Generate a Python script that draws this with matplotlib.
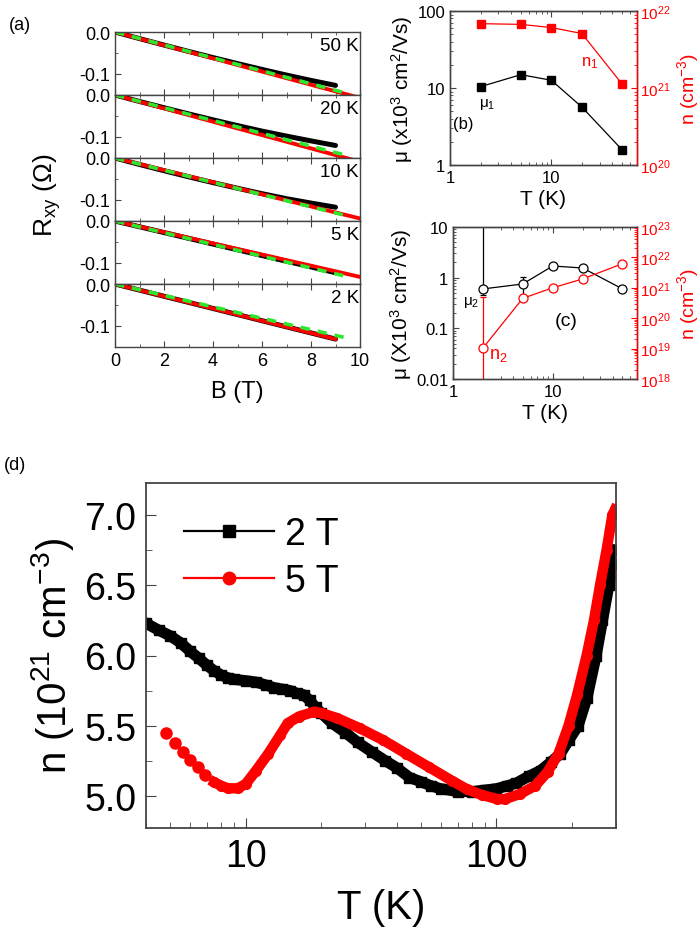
import numpy as np
import matplotlib
matplotlib.use('Agg')
import matplotlib.pyplot as plt
from matplotlib.lines import Line2D
from matplotlib.ticker import FixedLocator, MultipleLocator, LogLocator, NullFormatter

plt.rcParams['font.family'] = ['Liberation Sans', 'DejaVu Sans']
plt.rcParams['mathtext.fontset'] = 'custom'
plt.rcParams['mathtext.rm'] = 'Liberation Sans'
plt.rcParams['mathtext.it'] = 'Liberation Sans:italic'
plt.rcParams['mathtext.sf'] = 'Liberation Sans'
plt.rcParams['axes.unicode_minus'] = False

# ---------------- data: panel (a) ----------------
a_labels = ['50 K', '20 K', '10 K', '5 K', '2 K']
B_data = [0, 1, 2, 3, 4, 5, 6, 7, 8, 9]
R_50K = [0, -0.0158, -0.0313, -0.0465, -0.0613, -0.0757, -0.0897, -0.1032, -0.1160, -0.128]
R_20K = [0, -0.0155, -0.0305, -0.0452, -0.0595, -0.0733, -0.0865, -0.0985, -0.1100, -0.121]
R_10K = [0, -0.0155, -0.0305, -0.0450, -0.0590, -0.0725, -0.0855, -0.0975, -0.1080, -0.118]
R_5K = [0, -0.0138, -0.0277, -0.0415, -0.0553, -0.0690, -0.0828, -0.0965, -0.1100, -0.124]
R_2K = [0, -0.0147, -0.0294, -0.0440, -0.0587, -0.0733, -0.0880, -0.1027, -0.1173, -0.132]
red_fit_B_end = [10.0, 10.0, 10.0, 10.0, 9.0]
red_fit_R_end = [-0.158, -0.160, -0.145, -0.134, -0.132]
green_fit_B_end = [9.4, 9.4, 9.5, 9.45, 9.5]
green_fit_R_end = [-0.146, -0.144, -0.139, -0.133, -0.130]

# ---------------- data: panel (b) ----------------
T_b = [2, 5, 10, 20, 50]
mu1 = [10.4, 14.9, 12.6, 5.66, 1.57]
n1 = [6.85e21, 6.7e21, 6.1e21, 5.1e21, 1.12e21]

# ---------------- data: panel (c) ----------------
T_c = [2, 5, 10, 20, 50]
mu2 = [0.60, 0.75, 1.70, 1.55, 0.60]
mu2_err_low = [0.15, 0.30, 0.20, 0.18, 0.07]
mu2_err_high = [200.0, 0.27, 0.20, 0.18, 0.07]
n2 = [1.05e19, 4.5e20, 1.0e21, 1.96e21, 6.2e21]
n2_err_low = [1.0e19, 0.6e20, 0.15e21, 0.3e21, 1.0e21]
n2_err_high = [4.7e20, 0.6e20, 0.15e21, 0.3e21, 1.0e21]

# ---------------- data: panel (d) ----------------
T_2T = [4.0, 4.5, 5.0, 5.5, 6.0, 6.5, 7.0, 7.5, 8.0, 8.5, 9.0, 10, 11, 12, 13, 14, 15, 16, 17,
        18, 19, 20, 22, 25, 28, 32, 36, 40, 45, 50, 55, 60, 70, 80, 90, 100, 110, 120, 135,
        150, 165, 180, 195, 212, 230, 250, 265, 281, 292, 300]
n_2T = [6.23, 6.18, 6.14, 6.09, 6.03, 5.98, 5.93, 5.89, 5.86, 5.84, 5.83, 5.82, 5.81, 5.79,
        5.77, 5.76, 5.75, 5.73, 5.72, 5.68, 5.63, 5.59, 5.52, 5.45, 5.38, 5.31, 5.25, 5.20,
        5.13, 5.10, 5.07, 5.05, 5.03, 5.03, 5.04, 5.05, 5.07, 5.09, 5.14, 5.18, 5.24, 5.30,
        5.40, 5.50, 5.70, 6.00, 6.25, 6.50, 6.65, 6.75]
T_5T = [4.8, 5.2, 5.6, 6.0, 6.45, 6.9, 7.5, 8.0, 8.5, 9.3, 10, 11, 12.3, 13.7, 14.7, 16.3,
        18.8, 20.1, 23.2, 28.6, 35.3, 43.6, 53.8, 66.3, 76, 87.7, 101, 108, 124, 143, 160,
        177, 194, 210, 229, 245, 259, 275, 290, 297]
n_5T = [5.445, 5.377, 5.31, 5.257, 5.204, 5.149, 5.096, 5.07, 5.053, 5.053, 5.084, 5.18,
        5.30, 5.43, 5.517, 5.565, 5.60, 5.589, 5.553, 5.48, 5.397, 5.30, 5.204, 5.108, 5.048,
        5.005, 4.976, 4.976, 5.012, 5.072, 5.17, 5.30, 5.50, 5.72, 6.00, 6.25, 6.50, 6.75,
        7.00, 7.04]

W, H = 700, 929
RED = '#ff0000'
GREEN = '#2ee62e'
SPINE = '#444444'


def pos(l, t, r, b):
    return [l / W, 1 - b / H, (r - l) / W, (b - t) / H]


def style_spines(ax, lw=1.0):
    for s in ax.spines.values():
        s.set_color(SPINE)
        s.set_linewidth(lw)


fig = plt.figure(figsize=(7, 9.29), dpi=100)

# ---------------- panel (a) ----------------
a_tops = [33, 96, 159, 222, 285]
a_h = 63
R_all = [R_50K, R_20K, R_10K, R_5K, R_2K]
for i in range(5):
    top = a_tops[i]
    ax = fig.add_axes(pos(115, top, 360, top + a_h))
    ax.plot(B_data, R_all[i], color='k', lw=3.6, solid_capstyle='round')
    ax.plot([0, red_fit_B_end[i]], [0, red_fit_R_end[i]], color=RED, lw=2.8)
    ax.plot([0, green_fit_B_end[i]], [0, green_fit_R_end[i]], color=GREEN, lw=2.6,
            dashes=(2.6, 2.2))
    ax.set_xlim(0, 10)
    ax.set_ylim(-0.151, 0.0)
    ax.set_yticks([0.0, -0.1])
    ax.set_yticklabels(['0.0', '-0.1'])
    ax.yaxis.set_minor_locator(FixedLocator([-0.05]))
    ax.xaxis.set_major_locator(MultipleLocator(2))
    ax.xaxis.set_minor_locator(MultipleLocator(1))
    ax.tick_params(which='both', direction='in', top=True, right=False, labelsize=13,
                   color=SPINE)
    ax.tick_params(which='major', length=4)
    ax.tick_params(which='minor', length=2)
    style_spines(ax)
    ax.text(0.995, 0.78, a_labels[i], transform=ax.transAxes, ha='right', va='center',
            fontsize=13.5)
    if i < 4:
        ax.tick_params(labelbottom=False)
    else:
        ax.set_xlabel('B (T)', fontsize=17, labelpad=8)

fig.text(47 / W, 1 - 195 / H, r'R$_{\mathregular{xy}}$ ($\Omega$)', rotation=90,
         ha='center', va='center', fontsize=19)
fig.text(20 / W, 1 - 25 / H, '(a)', ha='center', va='center', fontsize=13)

# ---------------- panel (b) ----------------
axb = fig.add_axes(pos(450, 12, 637, 166))
axb.plot(T_b, mu1, color='k', lw=0.9, marker='s', ms=5.5, mfc='k', mec='k')
axb.set_xscale('log')
axb.set_yscale('log')
axb.set_xlim(1, 70)
axb.set_ylim(1, 100)
axb.set_xticks([1, 10])
axb.set_xticklabels(['1', '10'])
axb.set_yticks([1, 10, 100])
axb.set_yticklabels(['1', '10', '100'])
axb.tick_params(which='both', direction='in', labelsize=12, top=True, color=SPINE)
axb.tick_params(which='major', length=4)
axb.tick_params(which='minor', length=2)
axb.xaxis.set_minor_formatter(NullFormatter())
axb.yaxis.set_minor_formatter(NullFormatter())
axb.set_xlabel('T (K)', fontsize=15, labelpad=3)
axb.set_ylabel('μ (x10$^3$ cm$^2$/Vs)', fontsize=15, labelpad=2)
style_spines(axb)
axb2 = axb.twinx()
axb2.plot(T_b, n1, color=RED, lw=0.9, marker='s', ms=5.5, mfc=RED, mec=RED)
axb2.set_yscale('log')
axb2.set_ylim(1e20, 1e22)
axb2.set_yticks([1e20, 1e21, 1e22])
axb2.set_yticklabels([r'10$^{20}$', r'10$^{21}$', r'10$^{22}$'])
axb2.yaxis.set_minor_formatter(NullFormatter())
axb2.tick_params(which='both', direction='in', labelsize=11, colors=RED, pad=2)
axb2.tick_params(which='major', length=4)
axb2.tick_params(which='minor', length=2)
style_spines(axb2)
axb2.spines['right'].set_color(RED)
fig.text(688 / W, 1 - 89 / H, r'n (cm$^{-3}$)', rotation=90, ha='center', va='center',
         fontsize=14, color=RED)
fig.text(463 / W, 1 - 125 / H, '(b)', ha='center', va='center', fontsize=12)
fig.text(487 / W, 1 - 104 / H, 'μ$_{\\mathregular{1}}$', ha='center', va='center',
         fontsize=11)
fig.text(590 / W, 1 - 63 / H, r'n$_{\mathregular{1}}$', ha='center', va='center',
         fontsize=12, color=RED)

# ---------------- panel (c) ----------------
axc = fig.add_axes(pos(453, 228, 637, 380))
axc.set_xscale('log')
axc.set_yscale('log')
axc.errorbar(T_c, mu2, yerr=[mu2_err_low, mu2_err_high], color='k', lw=0.9, marker='o',
             ms=6.5, mfc='white', mec='k', mew=0.9, capsize=2, elinewidth=0.9)
axc.set_xlim(1, 70)
axc.set_ylim(0.01, 10)
axc.set_xticks([1, 10])
axc.set_xticklabels(['1', '10'])
axc.set_yticks([0.01, 0.1, 1, 10])
axc.set_yticklabels(['0.01', '0.1', '1', '10'])
axc.xaxis.set_minor_formatter(NullFormatter())
axc.yaxis.set_minor_formatter(NullFormatter())
axc.tick_params(which='both', direction='in', labelsize=12, top=True, color=SPINE)
axc.tick_params(which='major', length=4)
axc.tick_params(which='minor', length=2)
axc.set_xlabel('T (K)', fontsize=15, labelpad=3)
axc.set_ylabel('μ (X10$^3$ cm$^2$/Vs)', fontsize=15, labelpad=1)
style_spines(axc)
axc2 = axc.twinx()
axc2.set_yscale('log')
axc2.errorbar(T_c, n2, yerr=[n2_err_low, n2_err_high], color=RED, lw=0.9, marker='o',
              ms=6.5, mfc='white', mec=RED, mew=0.9, capsize=2, elinewidth=0.9)
axc2.set_ylim(1e18, 1e23)
axc2.set_yticks([1e18, 1e19, 1e20, 1e21, 1e22, 1e23])
axc2.set_yticklabels([r'10$^{%d}$' % k for k in range(18, 24)])
axc2.yaxis.set_minor_locator(LogLocator(base=10, subs=np.arange(2, 10), numticks=20))
axc2.yaxis.set_minor_formatter(NullFormatter())
axc2.tick_params(which='both', direction='in', labelsize=11, colors=RED, pad=2)
axc2.tick_params(which='major', length=4)
axc2.tick_params(which='minor', length=2)
style_spines(axc2)
axc2.spines['right'].set_color(RED)
fig.text(688 / W, 1 - 304 / H, r'n (cm$^{-3}$)', rotation=90, ha='center', va='center',
         fontsize=14, color=RED)
fig.text(566 / W, 1 - 322 / H, '(c)', ha='center', va='center', fontsize=14)
fig.text(479 / W, 1 - 303 / H, 'μ$_{\\mathregular{2}}$', ha='right', va='center',
         fontsize=11)
fig.text(498 / W, 1 - 356 / H, r'n$_{\mathregular{2}}$', ha='center', va='center',
         fontsize=13, color=RED)

# ---------------- panel (d) ----------------
axd = fig.add_axes(pos(146, 484, 616, 829))
T2 = np.array(T_2T)
n2T = np.array(n_2T)
T5 = np.array(T_5T)
n5T = np.array(n_5T)
axd.plot(T2, n2T, color='k', lw=8, marker='s', ms=7, solid_joinstyle='round')
low = T5 < 7.2
axd.plot(T5[low], n5T[low], ls='none', color=RED, marker='o', ms=8)
axd.plot(T5[~low], n5T[~low], color=RED, lw=7.5, marker='o', ms=7,
         solid_joinstyle='round')
axd.set_xscale('log')
axd.set_xlim(4.0, 300)
axd.set_ylim(4.77, 7.23)
axd.set_xticks([10, 100])
axd.set_xticklabels(['10', '100'])
axd.xaxis.set_minor_locator(LogLocator(base=10, subs=np.arange(2, 10), numticks=20))
axd.xaxis.set_minor_formatter(NullFormatter())
axd.yaxis.set_major_locator(FixedLocator([5.0, 5.5, 6.0, 6.5, 7.0]))
axd.yaxis.set_minor_locator(FixedLocator([5.25, 5.75, 6.25, 6.75]))
axd.set_yticklabels(['5.0', '5.5', '6.0', '6.5', '7.0'])
axd.tick_params(which='both', direction='in', labelsize=27, color=SPINE)
axd.tick_params(which='major', length=7, pad=7)
axd.tick_params(which='minor', length=4)
axd.set_xlabel('T (K)', fontsize=29, labelpad=10)
axd.set_ylabel(r'n (10$^{21}$ cm$^{-3}$)', fontsize=29, labelpad=6)
style_spines(axd, 1.3)

h1 = Line2D([], [], color='k', lw=1.6, marker='s', ms=9)
h2 = Line2D([], [], color=RED, lw=1.6, marker='o', ms=9)
axd.legend([h1, h2], ['2 T', '5 T'], loc='upper left', bbox_to_anchor=(0.08, 0.905),
           frameon=False, fontsize=27, handlelength=2.4, handletextpad=0.3,
           labelspacing=0.3, borderpad=0, borderaxespad=0)

fig.text(15 / W, 1 - 466 / H, '(d)', ha='center', va='center', fontsize=13)

fig.savefig('out.png', dpi=100)
